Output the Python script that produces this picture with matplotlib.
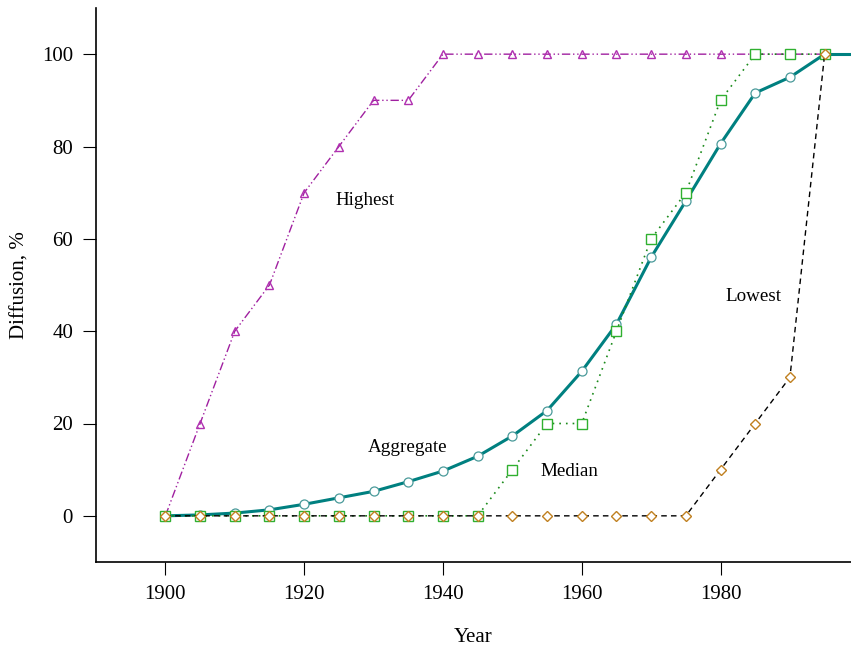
import matplotlib
matplotlib.use("Agg")
import matplotlib.pyplot as plt

years = [1900, 1905, 1910, 1915, 1920, 1925, 1930, 1935, 1940, 1945,
         1950, 1955, 1960, 1965, 1970, 1975, 1980, 1985, 1990, 1995]
aggregate = [0, 0.2, 0.6, 1.3, 2.5, 3.9, 5.3, 7.4, 9.7, 12.9,
             17.3, 22.8, 31.3, 41.5, 56.0, 68.2, 80.6, 91.6, 95.0, 100]
highest = [0, 20, 40, 50, 70, 80, 90, 90, 100, 100,
           100, 100, 100, 100, 100, 100, 100, 100, 100, 100]
median = [0, 0, 0, 0, 0, 0, 0, 0, 0, 0,
          10, 20, 20, 40, 60, 70, 90, 100, 100, 100]
lowest = [0, 0, 0, 0, 0, 0, 0, 0, 0, 0,
          0, 0, 0, 0, 0, 0, 10, 20, 30, 100]
ext_year = [1995, 2005]
ext_val = [100, 100]

plt.rcParams['font.family'] = ['Liberation Serif', 'DejaVu Serif']
fig = plt.figure(figsize=(8.51, 6.48), dpi=100)
ax = fig.add_axes([96/851, 86/648, 755/851, 554/648])

ax.plot(ext_year, ext_val, color='#008080', lw=2.2, zorder=2)
ax.plot(years, aggregate, color='#008080', lw=2.2, marker='o', ms=6.5,
        mfc='white', mec='#4a9a9a', mew=0.9, zorder=2)
ax.plot(years, highest, color='#a020a0', lw=1.0, ls=(0, (6, 2, 1, 2, 1, 2)),
        marker='^', ms=6, mfc='none', mec='#b030b0', mew=1.0, zorder=3)
ax.plot(years, median, color='#1a8a1a', lw=1.2, ls=(0, (1, 3)),
        marker='s', ms=6.5, mfc='white', mec='#30b030', mew=1.0, zorder=4)
ax.plot(years, lowest, color='black', lw=1.0, ls=(0, (4, 3)),
        marker='D', ms=5.3, mfc='white', mec='#c08020', mew=1.0, zorder=5)

ax.text(1928.7, 68.2, 'Highest', fontsize=13.7, ha='center', va='center')
ax.text(1984.8, 47.6, 'Lowest', fontsize=13.7, ha='center', va='center')
ax.text(1934.9, 14.7, 'Aggregate', fontsize=13.7, ha='center', va='center')
ax.text(1958.2, 9.7, 'Median', fontsize=13.7, ha='center', va='center')

ax.set_xlim(1890, 1998.8)
ax.set_ylim(-10, 110)
ax.set_xticks([1900, 1920, 1940, 1960, 1980])
ax.set_yticks([0, 20, 40, 60, 80, 100])
ax.spines['top'].set_visible(False)
ax.spines['right'].set_visible(False)
ax.spines['left'].set_linewidth(1.2)
ax.spines['bottom'].set_linewidth(1.2)
ax.tick_params(direction='out', length=9.5, width=0.8, labelsize=15, pad=7)
ax.set_xlabel('Year', fontsize=15, labelpad=17)
ax.set_ylabel('Diffusion, %', fontsize=15, labelpad=9)

fig.savefig('out.png', dpi=100)
